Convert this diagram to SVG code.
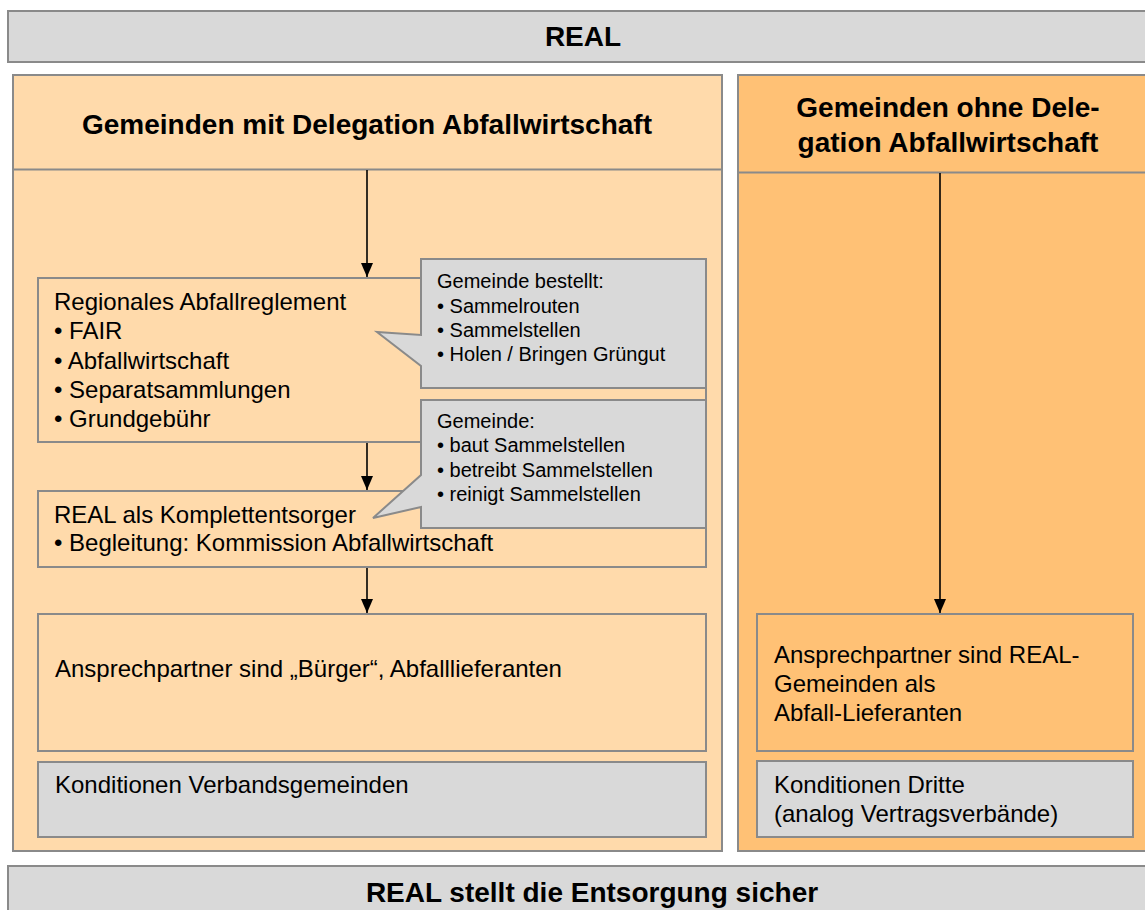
<svg xmlns="http://www.w3.org/2000/svg" width="1145" height="910" viewBox="0 0 1145 910">
<defs>
<style>
.gray{fill:#d9d9d9;stroke:#8a8a8a;stroke-width:2}
.peach{fill:#ffdaab;stroke:#8a8a8a;stroke-width:2}
.orange{fill:#ffc175;stroke:#8a8a8a;stroke-width:2}
.t{font-family:"Liberation Sans",Arial,sans-serif;font-size:24px;fill:#000}
.s{font-family:"Liberation Sans",Arial,sans-serif;font-size:20px;fill:#000}
.b{font-family:"Liberation Sans",Arial,sans-serif;font-size:28px;font-weight:bold;fill:#000;text-anchor:middle}
.conn{stroke:#000;stroke-width:1.6;fill:none;marker-end:url(#ah)}
</style>
<marker id="ah" markerWidth="14" markerHeight="12" refX="14" refY="6" orient="auto" markerUnits="userSpaceOnUse" viewBox="0 0 14 12">
<path d="M0,0 L14,6 L0,12 Z" fill="#000"/>
</marker>
</defs>
<rect width="1145" height="910" fill="#ffffff"/>

<g id="top-bar">
<rect class="gray" x="8" y="11" width="1160" height="51"/>
<text class="b" x="583" y="46">REAL</text>
</g>

<g id="panel-left">
<rect class="peach" x="13" y="75" width="709" height="776"/>
<line x1="13" y1="169.5" x2="722" y2="169.5" stroke="#8a8a8a" stroke-width="2"/>
<text class="b" x="367" y="134">Gemeinden mit Delegation Abfallwirtschaft</text>
</g>

<g id="panel-right">
<rect class="orange" x="738" y="75" width="430" height="776"/>
<line x1="738" y1="172.5" x2="1168" y2="172.5" stroke="#8a8a8a" stroke-width="2"/>
<text class="b" x="948" y="117">Gemeinden ohne Dele-</text>
<text class="b" x="948" y="152">gation Abfallwirtschaft</text>
</g>

<g id="box-reglement">
<rect class="peach" x="38" y="278" width="668" height="164"/>
<text class="t" x="54" y="310">Regionales Abfallreglement</text>
<text class="t" x="54" y="339">• FAIR</text>
<text class="t" x="54" y="369">• Abfallwirtschaft</text>
<text class="t" x="54" y="398">• Separatsammlungen</text>
<text class="t" x="54" y="427">• Grundgebühr</text>
</g>

<g id="box-komplett">
<rect class="peach" x="38" y="491" width="668" height="76"/>
<text class="t" x="54" y="523">REAL als Komplettentsorger</text>
<text class="t" x="54" y="551">• Begleitung: Kommission Abfallwirtschaft</text>
</g>

<g id="callout-bestellt">
<path class="gray" d="M421,259 H706 V388 H421 V366 L377,332 L421,335 Z"/>
<text class="s" x="437" y="288">Gemeinde bestellt:</text>
<text class="s" x="437" y="312.5">• Sammelrouten</text>
<text class="s" x="437" y="337">• Sammelstellen</text>
<text class="s" x="437" y="361">• Holen / Bringen Grüngut</text>
</g>

<g id="callout-gemeinde">
<path class="gray" d="M421,400 H706 V528 H421 V507 L373,518 L421,475 Z"/>
<text class="s" x="437" y="428">Gemeinde:</text>
<text class="s" x="437" y="452">• baut Sammelstellen</text>
<text class="s" x="437" y="476.5">• betreibt Sammelstellen</text>
<text class="s" x="437" y="501">• reinigt Sammelstellen</text>
</g>

<g id="box-ansprech-left">
<rect class="peach" x="38" y="614" width="668" height="137"/>
<text class="t" x="55" y="677">Ansprechpartner sind „Bürger“, Abfalllieferanten</text>
</g>

<g id="box-kond-left">
<rect class="gray" x="38" y="762" width="668" height="75"/>
<text class="t" x="55" y="793">Konditionen Verbandsgemeinden</text>
</g>

<g id="box-ansprech-right">
<rect class="orange" x="757" y="614" width="376" height="137"/>
<text class="t" x="774" y="663">Ansprechpartner sind REAL-</text>
<text class="t" x="774" y="692">Gemeinden als</text>
<text class="t" x="774" y="721">Abfall-Lieferanten</text>
</g>

<g id="box-kond-right">
<rect class="gray" x="757" y="761" width="376" height="76"/>
<text class="t" x="774" y="793">Konditionen Dritte</text>
<text class="t" x="774" y="822">(analog Vertragsverbände)</text>
</g>

<g id="bottom-bar">
<rect class="gray" x="8" y="866" width="1170" height="60"/>
<text class="b" x="592" y="902">REAL stellt die Entsorgung sicher</text>
</g>

<g id="connectors">
<line class="conn" x1="367" y1="170" x2="367" y2="277"/>
<line class="conn" x1="367" y1="443" x2="367" y2="490"/>
<line class="conn" x1="367" y1="568" x2="367" y2="613"/>
<line class="conn" x1="940" y1="173" x2="940" y2="613"/>
</g>
</svg>
